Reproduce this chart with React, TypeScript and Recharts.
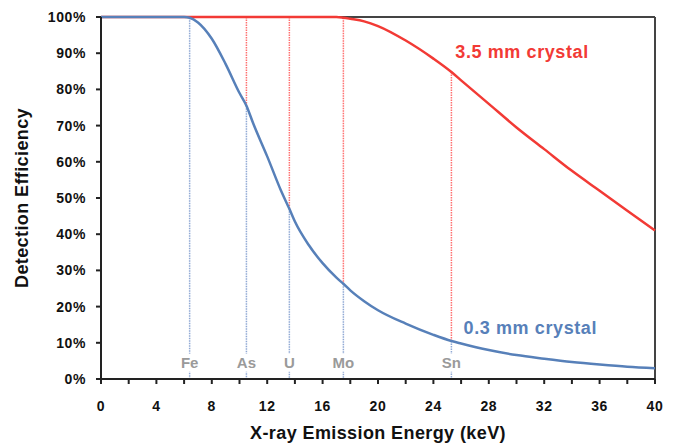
import React from 'react';
import { LineChart, Line, XAxis, YAxis, ReferenceLine, ReferenceDot } from 'recharts';

// X-ray energies (keV) where the curves are sampled
const energies = [0, 2, 4, 6, 6.4, 7, 8, 9, 10, 10.5, 11, 12, 13, 13.6, 14, 15, 16, 17, 17.5, 18, 19, 20, 22, 24, 25.3, 26, 28, 30, 32, 34, 36, 38, 40];
// detection efficiency (%) for the 0.3 mm crystal
const thinCrystal = [100, 100, 100, 100, 99.8, 98.5, 94, 87, 79, 75.5, 70.5, 61.5, 52, 47, 43.5, 37, 32, 28, 26.3, 24.5, 21.5, 19, 15.3, 12.2, 10.5, 9.8, 8, 6.6, 5.6, 4.7, 4, 3.4, 3];
// detection efficiency (%) for the 3.5 mm crystal
const thickCrystal = [100, 100, 100, 100, 100, 100, 100, 100, 100, 100, 100, 100, 100, 100, 100, 100, 100, 100, 99.8, 99.5, 98.8, 97.5, 93.5, 88.5, 84.8, 82.5, 76, 69.5, 63.5, 57.5, 52, 46.5, 41];

// element emission lines
const elements = ['Fe', 'As', 'U', 'Mo', 'Sn'];
const elementEnergies = [6.4, 10.5, 13.6, 17.5, 25.3];

const xTicks = [0, 2, 4, 6, 8, 10, 12, 14, 16, 18, 20, 22, 24, 26, 28, 30, 32, 34, 36, 38, 40];
const yTicks = [0, 10, 20, 30, 40, 50, 60, 70, 80, 90, 100];

const RED = '#f23a35';
const BLUE = '#5780b9';
const FONT = '"Liberation Sans", Arial, sans-serif';

const data = energies.map((e, i) => ({ e, thin: thinCrystal[i], thick: thickCrystal[i] }));

const valueAt = (arr: number[], e: number) => arr[energies.indexOf(e)];

export default function App() {
  return (
    <div style={{ position: 'absolute', left: 0, top: 0, background: '#fff', fontFamily: FONT }}>
      <LineChart width={676} height={444} data={data} margin={{ top: 17, right: 21, bottom: 0, left: 0 }}>
        <XAxis
          dataKey="e"
          type="number"
          domain={[0, 40]}
          ticks={xTicks}
          interval={0}
          tickFormatter={(v: number) => (v % 4 === 0 ? String(v) : '')}
          height={65}
          stroke="#222"
          strokeWidth={2}
          tickSize={5}
          tick={{ fill: '#111', fontSize: 14, fontWeight: 'bold', fontFamily: FONT, letterSpacing: 0.6 }}
          tickMargin={17}
          label={{ value: 'X-ray Emission Energy (keV)', position: 'insideBottom', offset: 5, fill: '#111', fontSize: 18, fontWeight: 'bold', fontFamily: FONT, letterSpacing: 0.4 }}
        />
        <YAxis
          type="number"
          domain={[0, 100]}
          ticks={yTicks}
          interval={0}
          tickFormatter={(v: number) => `${v}%`}
          width={101}
          stroke="#222"
          strokeWidth={2}
          tickSize={5}
          tickMargin={10}
          tick={{ fill: '#111', fontSize: 14, fontWeight: 'bold', fontFamily: FONT, letterSpacing: 0.6 }}
          label={{ value: 'Detection Efficiency', angle: -90, position: 'insideLeft', offset: 22, style: { textAnchor: 'middle' }, fill: '#111', fontSize: 18, fontWeight: 'bold', fontFamily: FONT, letterSpacing: 0.4 }}
        />

        {/* box frame */}
        <ReferenceLine y={100} stroke="#444" strokeWidth={2} />
        <ReferenceLine x={40} stroke="#444" strokeWidth={2} />

        {elementEnergies.map((e, i) => (
          <ReferenceLine
            key={'r' + i}
            segment={[{ x: e, y: valueAt(thickCrystal, e) }, { x: e, y: valueAt(thinCrystal, e) }]}
            stroke="#ff7070"
            strokeWidth={1.5}
            strokeDasharray="1.5 1"
          />
        ))}
        {elementEnergies.map((e, i) => (
          <ReferenceLine
            key={'b' + i}
            segment={[{ x: e, y: valueAt(thinCrystal, e) }, { x: e, y: 0 }]}
            stroke="#8fa8d4"
            strokeWidth={1.5}
            strokeDasharray="1.5 1"
          />
        ))}
        {elementEnergies.map((e, i) => (
          <ReferenceDot
            key={'l' + i}
            x={e}
            y={4.5}
            r={0}
            shape={(p: any) => (
              <g>
                <rect x={p.cx - 14} y={p.cy - 9} width={28} height={18} fill="#fff" />
                <text x={p.cx} y={p.cy + 5} textAnchor="middle" fill="#9a9a9a" fontSize={15} fontWeight="bold" fontFamily={FONT}>
                  {elements[i]}
                </text>
              </g>
            )}
          />
        ))}

        <Line type="monotone" dataKey="thick" stroke={RED} strokeWidth={2.5} dot={false} isAnimationActive={false} />
        <Line type="monotone" dataKey="thin" stroke={BLUE} strokeWidth={2.5} dot={false} isAnimationActive={false} />

        <ReferenceDot
          x={30.4}
          y={90.3}
          r={0}
          shape={(p: any) => (
            <text x={p.cx} y={p.cy + 6} textAnchor="middle" fill={RED} fontSize={18} fontWeight="bold" fontFamily={FONT} letterSpacing={0.6}>
              3.5 mm crystal
            </text>
          )}
        />
        <ReferenceDot
          x={31.0}
          y={14}
          r={0}
          shape={(p: any) => (
            <text x={p.cx} y={p.cy + 6} textAnchor="middle" fill={BLUE} fontSize={18} fontWeight="bold" fontFamily={FONT} letterSpacing={0.6}>
              0.3 mm crystal
            </text>
          )}
        />
      </LineChart>
    </div>
  );
}
